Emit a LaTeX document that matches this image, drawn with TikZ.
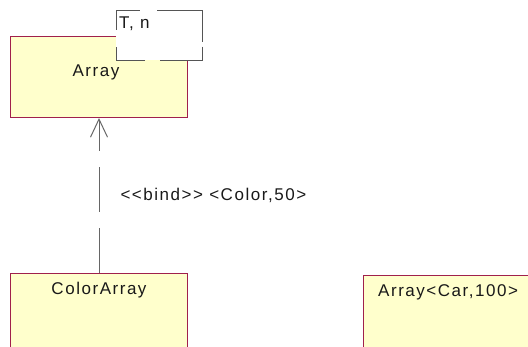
\documentclass[tikz,border=0pt]{standalone}
\usepackage{fontspec}
\setmainfont{Liberation Sans}[LetterSpace=9]
\usepackage{xcolor}
\usepackage{tikz}
\usetikzlibrary{arrows.meta, positioning}

\definecolor{classfill}{HTML}{FFFFCC}
\definecolor{classline}{HTML}{A0204C}
\definecolor{tmplline}{HTML}{555555}
\definecolor{bindline}{HTML}{666666}

\begin{document}
\begin{tikzpicture}[x=1pt, y=-1pt,
    font=\fontsize{17}{20}\selectfont,
    classbox/.style={draw=classline, fill=classfill, line width=1pt,
        minimum width=177pt, minimum height=81pt, inner sep=0pt, anchor=north west},
    classname/.style={inner sep=0pt, text=black!90},
    tmplbox/.style={fill=white, minimum width=86pt, minimum height=50pt,
        inner sep=0pt, anchor=north west},
    tmplborder/.style={draw=tmplline, line width=0.9pt,
        dash pattern=on 24pt off 17pt on 77pt off 5pt on 56pt off 15pt on 43pt off 17pt on 20pt},
    bindarrow/.style={draw=bindline, line width=1pt, dash pattern=on 45pt off 16pt,
        -{Straight Barb[length=18pt, width=17pt, line width=1pt]}}]

    % 0. Khung ảnh
    \useasboundingbox (0,0) rectangle (528,347);
    \clip (0,0) rectangle (528,347);

    % 1. Các lớp
    \node[classbox] (array) at (10,36) {};
    \node[classbox] (colorarray) at (10,273) {};
    \node[classbox] (carArray) at (363,275) {};

    % 2. Tên lớp
    \node[classname] (arrayName) at (96,72) {Array};
    \node[classname, below=9pt of colorarray.north] (colorarrayName) {ColorArray};
    \node[classname, anchor=north west] (carArrayName) at (378,284) {Array<Car,100>};

    % 3. Tham số mẫu T, n
    \node[tmplbox] (params) at (116,10) {};
    \draw[tmplborder] (params.north west) -- (params.north east)
        -- (params.south east) -- (params.south west) -- cycle;
    \node[classname, anchor=north west] (paramsText) at (119,17) {T, n};

    % 4. Quan hệ bind
    \draw[bindarrow] (colorarray.north) -- (array.south)
        node[classname, midway, anchor=west, xshift=21pt] (bindLabel)
        {<{}<bind>{}> <Color,50>};
\end{tikzpicture}
\end{document}
